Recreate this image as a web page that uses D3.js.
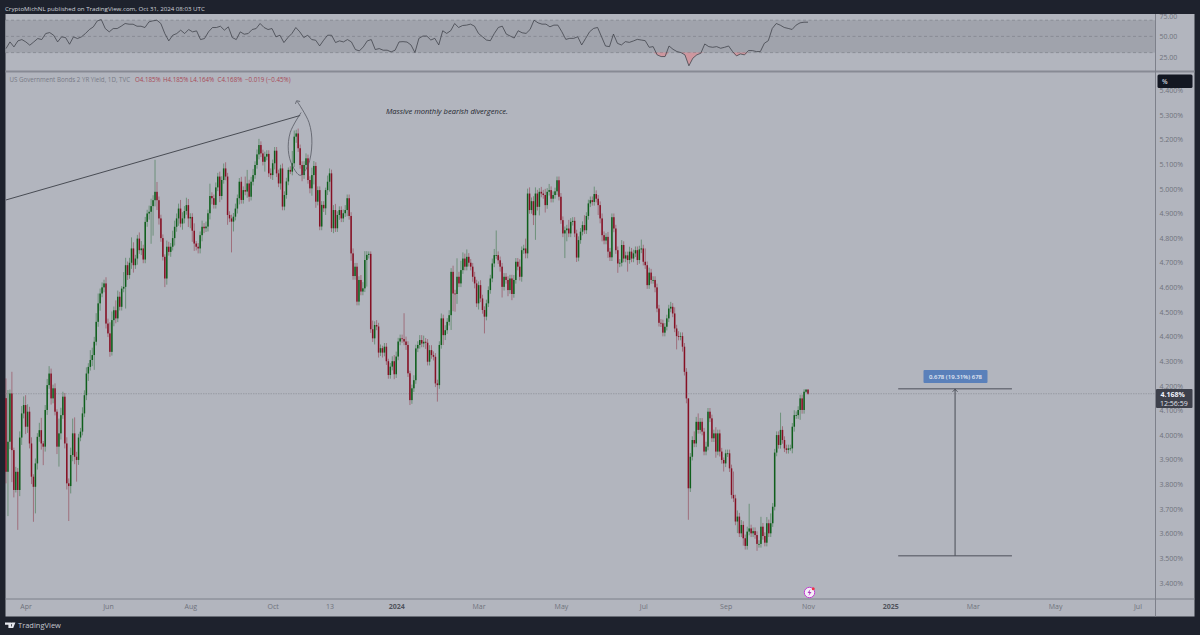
<!DOCTYPE html>
<html><head><meta charset="utf-8">
<script src="https://cdn.jsdelivr.net/npm/d3@7/dist/d3.min.js"></script>
<style>
html,body{margin:0;padding:0;background:#1e222d}
svg{display:block}
text{font-family:"Open Sans",sans-serif}
</style></head><body><svg id="c" width="1200" height="635"></svg>
<script>
const firstOpen = 4.15;
const closes = [
3.851,3.973,4.169,3.939,3.777,3.851,3.777,3.99,4.088,4.122,
4.034,4.095,3.966,3.831,3.79,3.885,3.993,4.02,3.966,3.953,
4.102,4.203,4.25,4.149,4.19,4.095,3.953,4.007,4.081,4.156,
3.966,3.804,3.793,3.919,4.007,3.912,3.899,3.99,4.014,4.088,
4.162,4.25,4.277,4.305,4.325,4.379,4.46,4.535,4.575,4.6,
4.616,4.453,4.413,4.338,4.467,4.507,4.474,4.562,4.521,4.595,
4.602,4.69,4.65,4.7,4.758,4.69,4.717,4.798,4.751,4.758,
4.713,4.866,4.9,4.907,4.93,4.954,4.988,4.954,4.88,4.8,
4.724,4.636,4.765,4.744,4.765,4.8,4.846,4.88,4.92,4.859,
4.88,4.91,4.934,4.88,4.886,4.83,4.778,4.765,4.758,4.812,
4.846,4.84,
4.847,4.901,4.971,4.962,4.935,5.006,5.05,4.971,5.036,5.083,
5.05,4.894,4.88,4.867,4.887,4.92,4.962,5.029,4.955,4.995,
4.989,5.022,4.968,5.029,5.056,5.097,5.14,5.178,5.144,5.11,
5.131,5.142,5.063,5.056,5.104,5.155,5.063,5.022,5.083,4.928,
4.975,5.03,5.077,5.07,5.104,5.212,5.225,5.165,5.097,5.056,
5.097,5.124,5.036,5.002,5.056,5.093,4.948,4.995,4.847,4.935,
4.921,4.995,5.029,5.063,4.84,4.914,4.84,4.894,4.914,4.88,
4.901,4.914,4.962,4.89,4.738,4.646,4.684,4.542,4.63,4.583,
4.596,4.711,4.732,4.736,4.43,4.393,4.447,4.441,4.335,4.353,
4.335,4.359,4.3,4.244,4.278,4.3,4.247,4.319,4.38,4.393,
4.39,4.38,
4.366,4.251,4.142,4.19,4.223,4.352,4.366,4.386,4.372,4.379,
4.375,4.298,4.345,4.325,4.318,4.21,4.203,4.366,4.474,4.406,
4.426,4.46,4.487,4.663,4.575,4.573,4.643,4.616,4.67,4.717,
4.684,4.724,4.7,4.684,4.643,4.616,4.535,4.609,4.555,4.508,
4.481,4.535,4.589,4.636,4.697,4.731,4.731,4.71,4.684,4.602,
4.643,4.63,4.589,4.636,4.573,4.63,4.704,4.684,4.643,4.751,
4.758,4.738,4.981,4.914,4.95,4.893,4.981,4.927,4.988,4.981,
4.975,4.934,4.988,4.995,4.96,4.975,4.99,5.035,4.968,4.873,
4.819,4.832,4.839,4.819,4.866,4.87,4.819,4.721,4.792,4.826,
4.853,4.832,4.89,4.941,4.954,4.947,4.979,4.96,4.934,4.88,
4.812,4.79,
4.805,4.745,4.722,4.885,4.839,4.751,4.697,4.7,4.772,4.717,
4.73,4.711,4.745,4.717,4.738,4.751,4.711,4.754,4.758,4.704,
4.69,4.609,4.66,4.63,4.63,4.6,4.514,4.456,4.454,4.416,
4.44,4.474,4.514,4.521,4.494,4.433,4.402,4.4,4.402,4.359,
4.257,4.149,3.784,3.912,3.98,3.966,4.054,4.021,4.054,4.014,
3.933,3.953,4.095,4.068,3.987,4.007,3.933,4.007,3.933,3.899,
3.885,3.926,3.926,3.865,3.757,3.743,3.649,3.669,3.601,3.635,
3.581,3.55,3.608,3.621,3.601,3.61,3.594,3.558,3.558,3.628,3.59,3.563,
3.642,3.601,3.642,3.709,3.929,4.0,3.96,4.021,3.98,3.946,
3.94,3.946,3.946,4.034,4.081,4.081,4.102,4.149,4.102,4.176,
4.185,4.168];
// wick lengths above / below the candle body, in thousandths of a percentage point
const upperWicks = [
80,210,16,88,10,20,15,25,30,35,40,30,20,25,10,20,15,30,50,10,
20,25,30,20,15,20,10,60,30,20,15,25,20,30,60,65,20,15,15,25,
20,25,15,40,30,20,35,40,20,20,15,25,20,45,35,15,40,25,20,10,
60,30,15,20,45,25,15,15,25,30,15,20,15,25,30,20,130,40,15,15,
15,10,25,20,15,30,25,20,20,35,25,20,30,25,15,15,30,10,15,15,25,15,
20,15,50,15,15,20,15,20,15,20,25,15,15,15,15,20,15,15,20,15,
55,55,15,20,25,15,20,25,15,15,20,15,15,20,15,15,15,15,15,20,
15,15,10,15,50,25,15,20,15,15,15,20,15,15,30,20,15,15,15,15,
15,10,25,20,15,20,25,15,15,15,15,20,15,15,15,20,15,15,15,20,
25,36,15,10,10,35,15,20,15,15,10,15,15,10,15,20,25,20,15,15,15,105,
20,15,10,15,20,15,15,20,20,25,15,15,20,20,15,15,15,15,20,15,
20,15,20,15,25,15,75,20,38,25,20,30,15,15,15,20,15,15,20,15,
15,15,15,15,20,25,100,15,15,15,15,15,15,15,15,20,15,15,30,15,
15,40,20,25,15,20,25,15,15,20,15,25,15,25,15,15,15,15,15,15,
15,15,15,35,15,15,15,15,15,15,15,40,15,15,15,15,30,15,15,15,20,15,
15,20,15,15,15,15,15,15,20,15,15,15,20,15,15,15,15,15,36,15,
54,15,20,15,15,15,15,15,15,15,15,15,15,20,15,25,15,20,15,15,
15,15,0,15,15,35,20,34,15,15,15,20,15,15,15,15,25,15,15,15,
10,15,15,15,15,95,15,25,15,20,15,15,20,100,15,15,15,15,15,40,15,15,
25,15,40,15,15,15,15,70,15,15,15,15,15,15,20,15,15,15,15,10,0,0];
const lowerWicks = [
47,180,30,130,30,10,162,25,30,20,30,25,20,30,142,108,25,20,25,75,
20,20,15,25,20,15,30,81,25,15,20,25,142,30,25,30,88,20,15,15,
15,20,30,15,25,60,15,20,30,15,20,20,15,20,15,25,20,15,15,15,
15,88,20,15,25,30,15,25,15,20,15,15,20,25,130,120,25,40,25,15,
15,35,25,15,20,15,30,20,30,15,25,20,15,35,40,45,30,15,20,20,25,20,
15,20,25,25,15,15,15,25,15,15,15,40,15,125,40,15,20,25,15,15,
15,25,20,15,15,15,15,20,15,15,40,15,15,15,20,25,15,15,25,15,
15,15,15,10,15,15,25,15,15,25,15,15,15,20,30,38,25,15,15,15,
15,27,20,40,15,20,15,15,20,15,15,15,25,15,30,15,15,15,15,15,
15,15,108,15,15,15,25,15,20,14,20,15,15,15,15,15,20,15,15,15,15,15,
20,15,20,15,15,15,15,15,15,15,25,15,15,15,15,15,67,15,15,40,
20,15,15,60,72,72,40,15,15,15,15,15,15,15,20,20,15,25,15,15,
68,15,15,15,15,15,15,15,20,43,15,15,25,15,25,15,15,15,15,20,
15,20,20,15,15,40,100,15,35,15,15,30,15,15,15,15,15,15,15,15,
15,100,45,15,15,15,15,18,15,15,15,15,15,15,15,15,15,15,40,20,25,15,
15,25,15,15,15,15,38,15,15,15,15,47,15,15,15,15,20,15,15,15,
15,15,15,15,15,20,15,15,15,15,15,15,15,15,15,15,54,15,15,20,
15,20,128,15,15,15,15,15,15,15,15,15,15,15,15,15,25,15,20,15,
33,15,15,15,15,15,15,47,15,15,30,15,15,15,15,15,15,28,15,15,15,15,
15,15,15,15,15,15,15,15,15,15,15,15,10,20,20,15,15,40,15,15,5,4];
const rsiValues = [
31.2,41.5,33.8,43.1,45.1,41.5,36.4,41.5,46.7,45.1,54.4,55.9,51.8,41.5,49.3,48.2,37.9,49.3,46.7,49.3,
54.4,60.6,64.7,74,76,62.1,57,62.1,62.1,65.7,69.9,68.8,68.8,65.7,65.7,63.7,72.4,74,75,69.9,
54.4,43.1,51.8,54.4,59.6,54.4,60.6,57,58.5,45.1,46.7,57,63.7,63.7,65.7,59.6,64.7,48.2,45.1,57,
53.4,54.4,60.6,62.1,69.9,63.7,60.6,62.1,49.3,51.8,40.5,48.2,54.4,63.7,57,48.2,51.8,45.1,44.1,35.3,
44.1,51.8,51.8,40.5,43.1,41.5,45.1,41.5,29.7,27.6,33.8,43.1,45.1,29.7,31.2,28.7,28.7,26.1,28.7,41.5,
41.9,41.3,36.8,25,47,50.5,50.5,44.4,47,36.8,58.7,54.6,58.7,69.9,63.8,66.8,67.4,68.9,65.8,54.6,
49.5,44.4,43.4,54.6,63.8,65.8,53.6,50.5,47.5,58.7,55.6,54.6,60.7,75,70.9,68.9,68.9,64.8,67.4,67.4,
57.2,45.4,47,47,49.5,36.8,47,57.2,62.3,63.8,49.5,35.2,34.2,53.6,39.3,36.8,41.9,40.8,42.9,45.4,
44.4,43.4,33.2,34.2,21.5,18.9,18.9,35.2,30.1,26.6,25,21.5,4.6,16.4,21.5,24,38.3,34.2,33.2,34.2,
31.7,33.2,35.2,26.6,19.9,23,21.5,28.1,28.1,26.6,26.6,39.3,43.4,62.3,69.9,67.4,63.8,62.3,60.7,67.4,
70.9,71.9,71.9];
const rsiLevels = [75,50,25];
const rsiTickLabels = ["75.00","50.00","25.00"];
const rsiTickAnchors = [80.5,50,18];
const priceTicks = [3.4,3.5,3.6,3.7,3.8,3.9,4.0,4.1,4.2,4.3,4.4,4.5,4.6,4.7,4.8,4.9,5.0,5.1,5.2,5.3,5.4];
const timeTickBars = [10,52,94,136,165,199,241,283,325,367,409,451,493,535,577];
const timeTickLabels = ["Apr","Jun","Aug","Oct","13","2024","Mar","May","Jul","Sep","Nov","2025","Mar","May","Jul"];
const lastPrice = 4.168;
const measureLow = 3.51, measureHigh = 4.188, measureBars = [455,513];
const trendBars = [0,150], trendPrices = [4.955,5.298];
const noteText = "Massive monthly bearish divergence.";

const bg="#b2b5be", frame="#1e222d", axisLine="#7d808a", axisText="#6f727c";
const svg=d3.select("#c");
const L=5.5,R=1155.5,RR=1194.5,T=14,D=71.5,B=599,BB=616.5;
svg.append("rect").attr("width",1200).attr("height",635).attr("fill",frame);
svg.append("rect").attr("x",L).attr("y",T).attr("width",RR-L).attr("height",BB-T).attr("fill",bg);

const x=d3.scaleLinear().domain([0,409]).range([6,808]);
const y=d3.scaleLinear().domain([3.5,5.3]).range([558.2,115]);
const rsiY=d3.scaleLinear().domain([25,75]).range([52.6,20.2]);
const rsiX=d3.scalePoint().domain(d3.range(rsiValues.length)).range([6,808]);

const candles=closes.map((c,i)=>{const o=i?closes[i-1]:firstOpen;return{i,o,c,h:Math.max(o,c)+(upperWicks[i]??15)/1000,l:Math.min(o,c)-(lowerWicks[i]??15)/1000};});

// RSI pane
const rp=svg.append("g");
rp.append("rect").attr("x",L).attr("width",R-L).attr("y",rsiY(75)).attr("height",rsiY(25)-rsiY(75)).attr("fill","#a0a3ac");
rp.selectAll("line.lv").data(rsiLevels).join("line").attr("x1",L).attr("x2",R).attr("y1",d=>rsiY(d)).attr("y2",d=>rsiY(d))
  .attr("stroke","#7f828b").attr("stroke-width",.7).attr("stroke-dasharray","3 2.5");
rp.append("path").datum(rsiValues).attr("fill","#e8797f").attr("opacity",.5)
  .attr("d",d3.area().x((d,i)=>rsiX(i)).y0(rsiY(25)).y1(d=>rsiY(Math.min(d,25))));
rp.append("path").datum(rsiValues).attr("fill","none").attr("stroke","#3c3f47").attr("stroke-width",.75)
  .attr("d",d3.line().x((d,i)=>rsiX(i)).y(d=>rsiY(d)));

// price line
svg.append("line").attr("x1",L).attr("x2",R).attr("y1",y(lastPrice)).attr("y2",y(lastPrice)).attr("stroke","#8d909a").attr("stroke-width",.7).attr("stroke-dasharray","1.5 1");

// candles
const cg=svg.append("g");
const col=d=>d.c>=d.o?"#0f5f1c":"#861024";
cg.selectAll("line.w").data(candles).join("line").attr("x1",d=>x(d.i)).attr("x2",d=>x(d.i)).attr("y1",d=>y(d.h)).attr("y2",d=>y(d.l))
  .attr("stroke",col).attr("stroke-opacity",.42).attr("stroke-width",1);
cg.selectAll("rect").data(candles).join("rect").attr("x",d=>x(d.i)-.75).attr("width",1.5)
  .attr("y",d=>y(Math.max(d.o,d.c))).attr("height",d=>Math.max(.8,Math.abs(y(d.o)-y(d.c)))).attr("fill",col);

// drawings
svg.append("line").attr("x1",x(trendBars[0])).attr("x2",x(trendBars[1])).attr("y1",y(trendPrices[0])).attr("y2",y(trendPrices[1])).attr("stroke","#3c3f47").attr("stroke-width",.9);
const ell=[[5.31,150.5],[5.23,145],[5.155,144],[5.095,146],[5.055,150],[5.095,154],[5.185,156],[5.27,154.5],[5.355,148.5]];
svg.append("path").datum(ell).attr("fill","none").attr("stroke","#50535c").attr("stroke-width",.75)
  .attr("d",d3.line().x(d=>x(d[1])).y(d=>y(d[0])).curve(d3.curveCatmullRom));
const ah=[[5.345,147.6],[5.358,148.2],[5.355,150]];
svg.append("path").datum(ah).attr("fill","none").attr("stroke","#50535c").attr("stroke-width",.75)
  .attr("d",d3.line().x(d=>x(d[1])).y(d=>y(d[0])));
svg.append("text").text(noteText).attr("x",386).attr("y",113.5).attr("font-size",7.55).attr("font-style","italic").attr("fill","#23262f");

// measure tool
const mx=(measureBars[0]+measureBars[1])/2;
[measureHigh,measureLow].forEach(p=>svg.append("line").attr("x1",x(measureBars[0])).attr("x2",x(measureBars[1])).attr("y1",y(p)).attr("y2",y(p)).attr("stroke","#6e717b").attr("stroke-width",1.5));
svg.append("line").attr("x1",x(mx)).attr("x2",x(mx)).attr("y1",y(measureLow)).attr("y2",y(measureHigh)).attr("stroke","#4a4d55").attr("stroke-width",1);
svg.append("path").attr("d",`M${x(mx)-2.5},${y(measureHigh)+3}L${x(mx)},${y(measureHigh)+.5}L${x(mx)+2.5},${y(measureHigh)+3}`).attr("fill","none").attr("stroke","#3c3f47").attr("stroke-width",.8);
svg.append("rect").attr("x",923.5).attr("y",370).attr("width",64).attr("height",13).attr("rx",1).attr("fill","#5a80ba");
svg.append("text").text("0.678 (19.31%) 678").attr("x",955.5).attr("y",378.5).attr("text-anchor","middle").attr("font-size",6).attr("font-weight",600).attr("fill","#e8ecf5");

// frame lines
svg.append("rect").attr("x",L).attr("y",D-1).attr("width",RR-L).attr("height",2).attr("fill","#878a94");
svg.append("line").attr("x1",L).attr("x2",RR).attr("y1",B).attr("y2",B).attr("stroke",axisLine);
svg.append("line").attr("x1",R).attr("x2",R).attr("y1",T).attr("y2",BB).attr("stroke",axisLine);

// axes
const pa=svg.append("g").attr("transform",`translate(${R},0)`).call(d3.axisRight(y).tickValues(priceTicks).tickSize(0).tickPadding(4).tickFormat(d=>d.toFixed(3)+"%"));
pa.select(".domain").remove();
pa.selectAll("text").attr("font-size",7).attr("font-family",'"Open Sans",sans-serif').attr("fill",axisText);
const ra=svg.append("g").attr("transform",`translate(${R},0)`).call(d3.axisRight(rsiY).tickValues(rsiTickAnchors).tickSize(0).tickPadding(4).tickFormat((d,i)=>rsiTickLabels[i]));
ra.select(".domain").remove();
ra.selectAll("text").attr("font-size",7).attr("font-family",'"Open Sans",sans-serif').attr("fill",axisText);
const ta=svg.append("g").attr("transform",`translate(0,${B})`).call(d3.axisBottom(x).tickValues(timeTickBars).tickSize(0).tickPadding(5).tickFormat((d,i)=>timeTickLabels[i]));
ta.select(".domain").remove();
ta.selectAll("text").attr("font-size",7).attr("font-family",'"Open Sans",sans-serif').attr("fill",axisText)
  .attr("font-weight",(d,i)=>/^20/.test(timeTickLabels[i])?700:400).attr("fill",(d,i)=>/^20/.test(timeTickLabels[i])?"#50535c":axisText);

// pane masks / badges
svg.append("rect").attr("x",1157.5).attr("y",74.5).attr("width",35).attr("height",13.5).attr("rx",1.5).attr("fill","#131722");
svg.append("text").text("%").attr("x",1162).attr("y",84).attr("font-size",6.5).attr("font-weight",600).attr("fill","#d1d4dc");
svg.append("rect").attr("x",1156).attr("y",389).attr("width",36.5).attr("height",19).attr("rx",1).attr("fill","#3d404b");
svg.append("text").text("4.168%").attr("x",1160.5).attr("y",397).attr("font-size",7).attr("font-weight",700).attr("fill","#f0f3fa");
svg.append("text").text("12:56:59").attr("x",1160).attr("y",405.5).attr("font-size",7).attr("fill","#e0e3eb");

// legend
const legendParts=[["US Government Bonds 2 YR Yield, 1D, TVC",9.5,"#787b86"],["O4.185%",135,"#a84a58"],["H4.185%",163,"#a84a58"],["L4.164%",190,"#a84a58"],["C4.168%",217.5,"#a84a58"],["−0.019 (−0.45%)",245,"#a84a58"]];
svg.selectAll("text.lg").data(legendParts).join("text").attr("class","lg").text(d=>d[0]).attr("x",d=>d[1]).attr("y",82.3).attr("font-size",6.2).attr("fill",d=>d[2]);

// header / footer
svg.append("text").text("CryptoMichNL published on TradingView.com, Oct 31, 2024 08:03 UTC").attr("x",5).attr("y",10.5).attr("font-size",6.15).attr("fill","#d1d4dc");
svg.append("path").attr("d","M5,622.5h6v5.5h-2.6v-3.3h-3.4zM11.6,622.5h3.8l-2.2,5.5h-2.6l1.6-3.6a1,1 0 1 1 -.6,-1.9z").attr("fill","#e6e8ee");
svg.append("text").text("TradingView").attr("x",18).attr("y",628).attr("font-size",7.5).attr("fill","#c5c8d0");

// icon
const ic=svg.append("g").attr("transform","translate(809.5,592.5)");
ic.append("circle").attr("r",5.2).attr("fill","#f4eef7").attr("stroke","#c13fd0").attr("stroke-width",1);
ic.append("path").attr("d","M1,-3.4L-2,.6H0L-1,3.4L2,-.6H0z").attr("fill","#b030c0");
ic.append("circle").attr("cx",3.7).attr("cy",-3.8).attr("r",1.5).attr("fill","#f0304a");
</script></body></html>
